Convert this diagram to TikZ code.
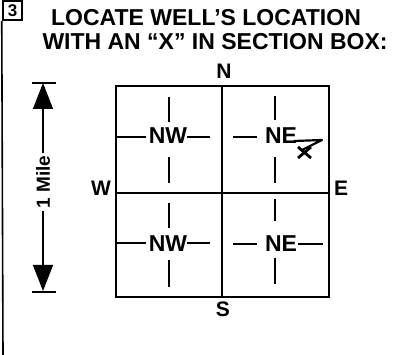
\documentclass[tikz,border=0pt]{standalone}
\usepackage{fontspec}
\setmainfont{Liberation Sans}
\usetikzlibrary{arrows.meta}
\tikzset{
  heading/.style={font=\fontsize{23}{27}\selectfont\bfseries, inner sep=0pt},
  quadlabel/.style={font=\fontsize{23}{27}\selectfont\bfseries, inner sep=0pt},
  compass/.style={font=\fontsize{21}{25}\selectfont\bfseries, inner sep=0pt},
  frame/.style={line width=2.6pt},
  tick/.style={line width=2.3pt},
  dimline/.style={line width=1.3pt, -{Triangle[width=20pt,length=26pt]}},
}
\begin{document}
\begin{tikzpicture}[x=1pt,y=-1pt]
  \useasboundingbox (0,0) rectangle (396,355);
  % item number and left rule
  \node[draw, line width=2.5pt, minimum size=19pt, inner sep=0pt,
        font=\fontsize{17}{17}\selectfont\bfseries] (num) at (12.5,10.5) {3};
  \coordinate (rulebot) at (3,355);
  \draw[line width=1.6pt] (num.south west) -- (rulebot);
  % heading
  \node[heading] (head1) at (206,18) {LOCATE WELL’S LOCATION};
  \node[heading] (head2) at (215,42) {WITH AN “X” IN SECTION BOX:};
  % section box
  \draw[frame] (116,86) rectangle (329,297);
  \draw[frame] (222,86) -- (222,297);
  \draw[frame] (116,193) -- (329,193);
  \node[compass] (north) at (224,71) {N};
  \node[compass] (south) at (223,309) {S};
  \node[compass] (west) at (101,188) {W};
  \node[compass] (east) at (341,188) {E};
  % quarter sections
  \node[quadlabel] (nw1) at (168,136) {NW};
  \node[quadlabel] (ne1) at (281,136) {NE};
  \node[quadlabel] (nw2) at (168,244) {NW};
  \node[quadlabel] (ne2) at (281,244) {NE};
  \draw[tick] (169,97) -- (169,122);
  \draw[tick] (169,157) -- (169,183);
  \draw[tick] (116,137) -- (146,137);
  \draw[tick] (187,137) -- (210,137);
  \draw[tick] (275,96) -- (275,120);
  \draw[tick] (275,157) -- (275,183);
  \draw[tick] (233,137) -- (257,137);
  \draw[tick] (169,203) -- (169,228);
  \draw[tick] (169,260) -- (169,287);
  \draw[tick] (116,243) -- (146,243);
  \draw[tick] (187,243) -- (210,243);
  \draw[tick] (275,199) -- (275,221);
  \draw[tick] (275,258) -- (275,284);
  \draw[tick] (233,244) -- (257,244);
  \draw[tick] (298,244) -- (323,244);
  % the X
  \draw[line width=2.2pt, line join=round] (294,141) -- (322,140) -- (302,150);
  \draw[line width=2.8pt] (298,147) -- (311,158);
  \draw[line width=2.8pt] (311,147) -- (298,158);
  % one mile
  \node[rotate=90, inner sep=2pt, font=\fontsize{19}{21}\selectfont\bfseries] (mile) at (43,182) {1 Mile};
  \coordinate (miletop) at (43,83);
  \coordinate (milebot) at (43,291);
  \draw[dimline] (mile) -- (miletop);
  \draw[dimline] (mile) -- (milebot);
  \draw[line width=2.3pt] (32,83) -- (56,83);
  \draw[line width=2.3pt] (32,292) -- (56,292);
\end{tikzpicture}
\end{document}
